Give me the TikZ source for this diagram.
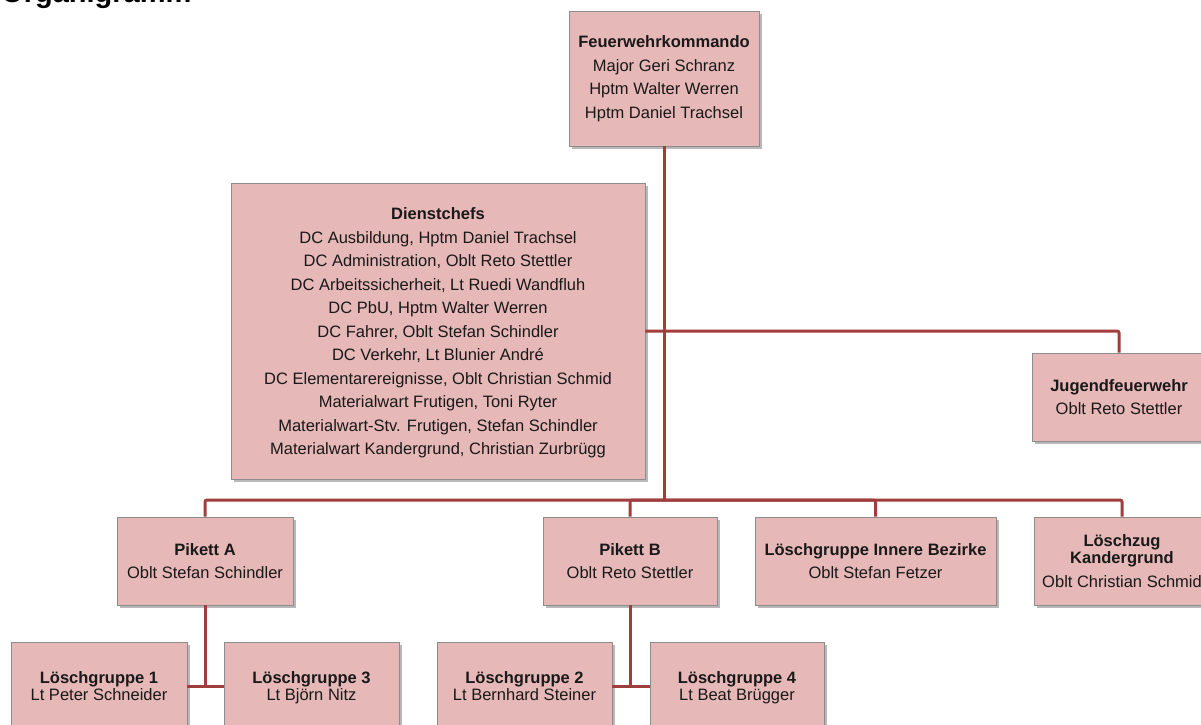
\documentclass[tikz,border=0pt]{standalone}
\usepackage{fontspec}
\setmainfont{Liberation Sans}
\usetikzlibrary{shadows}
\definecolor{boxfill}{RGB}{230,184,183}
\definecolor{boxdraw}{RGB}{140,140,140}
\definecolor{conn}{RGB}{160,62,62}
\definecolor{txt}{RGB}{25,25,25}
\newcommand{\topph}{\rule{0pt}{15.5pt}}
\newcommand{\botph}{\vphantom{g}}
\tikzset{
  orgbox/.style={rectangle, draw=boxdraw, line width=0.8pt, fill=boxfill, text=txt,
    align=center, inner sep=0pt,
    font=\fontsize{16.5}{23.5}\selectfont,
    drop shadow={shadow xshift=2.5pt, shadow yshift=-2.5pt, fill=black, opacity=0.28}},
  tight/.style={font=\fontsize{16.5}{17}\selectfont},
  link/.style={draw=conn, line width=3pt, rounded corners=2pt}
}
\begin{document}
\begin{tikzpicture}[x=1pt,y=-1pt]
\useasboundingbox (0,0) rectangle (1201,724);
\clip (0,0) rectangle (1201,724);
\fill[white] (0,0) rectangle (1201,724);
\node[anchor=base west, font=\bfseries\fontsize{29}{30}\selectfont, inner sep=0pt] (title) at (1,2) {Organigramm};

\node[orgbox, minimum width=190pt, minimum height=135pt] (fk) at (664,78.5)
  {\textbf{Feuerwehrkommando}\\Major Geri Schranz\\Hptm Walter Werren\\Hptm Daniel Trachsel};
\node[orgbox, minimum width=414pt, minimum height=296pt] (dc) at (438,331)
  {\rule{0pt}{16pt}\textbf{Dienstchefs}\\DC Ausbildung, Hptm Daniel Trachsel\\DC Administration, Oblt Reto Stettler\\DC Arbeitssicherheit, Lt Ruedi Wandfluh\\DC PbU, Hptm Walter Werren\\DC Fahrer, Oblt Stefan Schindler\\DC Verkehr, Lt Blunier André\\DC Elementarereignisse, Oblt Christian Schmid\\Materialwart Frutigen, Toni Ryter\\Materialwart-Stv. Frutigen, Stefan Schindler\\Materialwart Kandergrund, Christian Zurbrügg};
\node[orgbox, minimum width=174pt, minimum height=88pt] (jf) at (1119,397)
  {\textbf{Jugendfeuerwehr}\\Oblt Reto Stettler};
\node[orgbox, minimum width=176pt, minimum height=88pt] (pa) at (205,561)
  {\textbf{Pikett A}\\Oblt Stefan Schindler};
\node[orgbox, minimum width=174pt, minimum height=88pt] (pb) at (630,561)
  {\textbf{Pikett B}\\Oblt Reto Stettler};
\node[orgbox, minimum width=241pt, minimum height=88pt] (ib) at (875.5,561)
  {\textbf{Löschgruppe Innere Bezirke}\\Oblt Stefan Fetzer};
\node[orgbox, minimum width=176pt, minimum height=88pt] (kz) at (1122,561)
  {\textbf{Löschzug}\\[-6.5pt]\textbf{Kandergrund}\\Oblt Christian Schmid};
\node[orgbox, tight, minimum width=176pt, minimum height=88pt] (lg1) at (99,686)
  {\topph\textbf{Löschgruppe 1}\\Lt Peter Schneider\botph};
\node[orgbox, tight, minimum width=175pt, minimum height=88pt] (lg3) at (311.5,686)
  {\topph\textbf{Löschgruppe 3}\\Lt Björn Nitz\botph};
\node[orgbox, tight, minimum width=175pt, minimum height=88pt] (lg2) at (524.5,686)
  {\topph\textbf{Löschgruppe 2}\\Lt Bernhard Steiner\botph};
\node[orgbox, tight, minimum width=174pt, minimum height=88pt] (lg4) at (737,686)
  {\topph\textbf{Löschgruppe 4}\\Lt Beat Brügger\botph};

\coordinate (bus) at (664,500);
\draw[link] (fk.south) -- (bus);
\draw[link] (dc.east) -- (jf.north |- dc.east) -- (jf.north);
\draw[link] (bus) -| (pa.north);
\draw[link] (bus) -| (pb.north);
\draw[link] (bus) -| (ib.north);
\draw[link] (bus) -| (kz.north);
\draw[link] (pa.south) -- (pa.south |- lg1.east);
\draw[link] (lg1.east) -- (lg3.west);
\draw[link] (pb.south) -- (pb.south |- lg2.east);
\draw[link] (lg2.east) -- (lg4.west);
\end{tikzpicture}
\end{document}
